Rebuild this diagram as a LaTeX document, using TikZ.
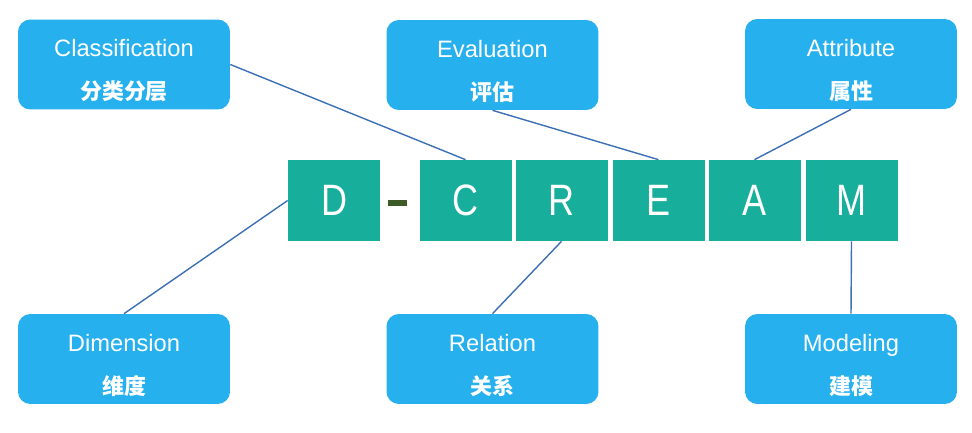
\documentclass[tikz,border=0pt]{standalone}
\usepackage{fontspec}
\usepackage{xcolor}
\usetikzlibrary{positioning}
\setmainfont{Liberation Sans}
\newfontfamily\cjk{Noto Sans CJK SC}
\newfontfamily\lettfont[FakeStretch=0.82]{Liberation Sans}
\definecolor{skyBlue}{RGB}{39,176,238}
\definecolor{tealBox}{RGB}{23,174,155}
\definecolor{lineBlue}{RGB}{60,112,180}
\definecolor{dashGreen}{RGB}{61,90,39}
\newcommand{\zh}[1]{{\cjk\bfseries\fontsize{12.5}{15}\selectfont #1}}

\begin{document}
\begin{tikzpicture}[x=0.02cm, y=-0.02cm,
  term/.style={fill=skyBlue, rounded corners=7pt, minimum width=4.24cm,
               minimum height=1.8cm, align=center, text=white,
               font=\fontsize{13.5}{16}\selectfont},
  letter/.style={fill=tealBox, minimum width=1.84cm, minimum height=1.62cm,
                 inner sep=0pt, text=white, font=\lettfont\fontsize{25}{28}\selectfont},
  link/.style={draw=lineBlue, line width=0.8pt},
]
  \useasboundingbox (0,0) rectangle (972,432);

  % top row
  \node[term] (cls) at (124,64.5) {\rule{0pt}{17pt}Classification\\[8.5pt]\zh{分类分层}};
  \node[term] (eva) at (492.5,65) {\rule{0pt}{17pt}Evaluation\\[8.5pt]\zh{评估}};
  \node[term] (att) at (851,64) {\rule{0pt}{17pt}Attribute\\[8.5pt]\zh{属性}};

  % bottom row
  \node[term] (dim) at (124,359) {\rule{0pt}{17pt}Dimension\\[8.5pt]\zh{维度}};
  \node[term] (rel) at (492.5,359) {\rule{0pt}{17pt}Relation\\[8.5pt]\zh{关系}};
  \node[term] (mod) at (851,359) {\rule{0pt}{17pt}Modeling\\[8.5pt]\zh{建模}};

  % D-CREAM
  \node[letter] (d) at (334,200.5) {D};
  \node[fill=dashGreen, minimum width=0.38cm, minimum height=0.12cm,
        inner sep=0pt] (dash) at (397.5,202.5) {};
  \node[letter] (c) at (465.5,200.5) {C};
  \node[letter] (r) at (561.5,200.5) {R};
  \node[letter] (e) at (658.5,200.5) {E};
  \node[letter] (a) at (754.5,200.5) {A};
  \node[letter] (m) at (851.5,200.5) {M};

  \draw[link] (cls.east) -- (c.north);
  \draw[link] (eva.south) -- (e.north);
  \draw[link] (att.south) -- (a.north);
  \draw[link] (dim.north) -- (d.west);
  \draw[link] (rel.north) -- (r.south);
  \draw[link] (mod.north) -- (m.south);
\end{tikzpicture}
\end{document}
